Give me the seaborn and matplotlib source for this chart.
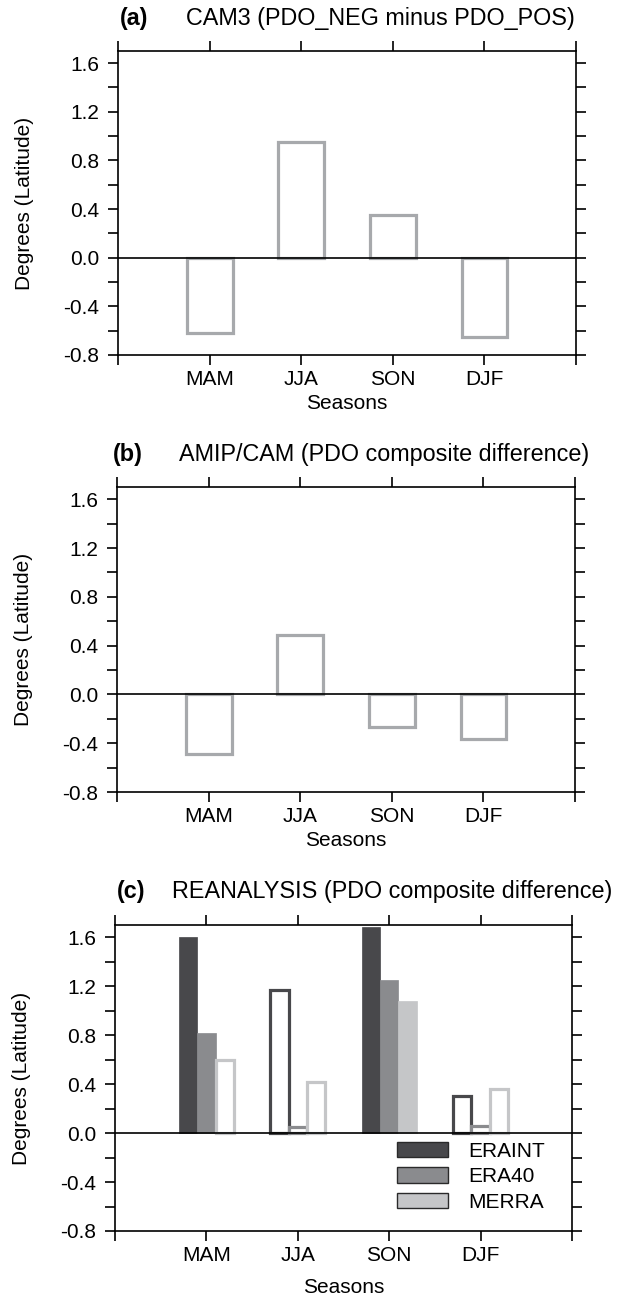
import pandas as pd
import seaborn as sns
import matplotlib.pyplot as plt
from matplotlib.patches import Patch
from matplotlib.ticker import MultipleLocator

# Seasons and their positions on the x axis
seasons = ['MAM', 'JJA', 'SON', 'DJF']
season_pos = [1, 2, 3, 4]

# Panel (a): CAM3 and panel (b): AMIP/CAM shift in degrees latitude
cam3_diff = [-0.62, 0.95, 0.35, -0.65]
amip_diff = [-0.49, 0.49, -0.265, -0.365]

# Panel (c): reanalyses
datasets = ['ERAINT', 'ERA40', 'MERRA']
eraint = [1.60, 1.165, 1.68, 0.30]
era40 = [0.82, 0.05, 1.25, 0.06]
merra = [0.60, 0.42, 1.08, 0.36]
# filled bars are the significant ones, the rest are drawn hollow
eraint_sig = [True, False, True, False]
era40_sig = [True, False, True, False]
merra_sig = [False, False, True, False]

dataset_colors = ['#48484b', '#8a8b8e', '#c5c6c8']
model_edge = '#a7a9ac'


def style_axes(ax, tag, title, tag_x, title_x, xlabel_y):
    ax.set_xlim(0, 5)
    ax.set_ylim(-0.8, 1.7)
    ax.axhline(0, color='black', linewidth=1.2, zorder=5)

    # y ticks every 0.2, labels every 0.4
    yt = [-0.8, -0.4, 0.0, 0.4, 0.8, 1.2, 1.6]
    ax.set_yticks(yt)
    ax.set_yticklabels(['%.1f' % v for v in yt])
    ax.yaxis.set_minor_locator(MultipleLocator(0.2))
    ax.set_xticks([0, 1, 2, 3, 4, 5])
    ax.set_xticklabels([''] + seasons + [''])

    ax.tick_params(axis='both', which='both', direction='out', length=7, width=1.2,
                   top=True, right=True, labelsize=15, colors='black')
    ax.tick_params(axis='x', pad=4)
    ax.tick_params(axis='y', pad=6.5)
    for side in ['left', 'right', 'top', 'bottom']:
        ax.spines[side].set_visible(True)
        ax.spines[side].set_linewidth(1.2)
        ax.spines[side].set_color('black')

    ax.set_xlabel('Seasons', fontsize=15)
    ax.set_ylabel('Degrees (Latitude)', fontsize=15)
    ax.xaxis.set_label_coords(0.5, xlabel_y)
    ax.yaxis.set_label_coords(-0.183, 0.5)

    ax.text(tag_x, 1.108, tag, transform=ax.transAxes, fontsize=16.8, fontweight='bold',
            va='center', ha='left')
    ax.text(title_x, 1.108, title, transform=ax.transAxes, fontsize=16.8,
            va='center', ha='left')


def plot_single(ax, values, tag, title, tag_x, title_x):
    df = pd.DataFrame({'pos': season_pos, 'value': values})
    sns.barplot(data=df, x='pos', y='value', native_scale=True, width=0.5,
                color='white', edgecolor=model_edge, linewidth=2.3,
                saturation=1, errorbar=None, ax=ax)
    style_axes(ax, tag, title, tag_x, title_x, -0.128)


def plot_reanalysis(ax):
    values = {'ERAINT': eraint, 'ERA40': era40, 'MERRA': merra}
    sig = {'ERAINT': eraint_sig, 'ERA40': era40_sig, 'MERRA': merra_sig}
    rows = []
    for name in datasets:
        for pos, val in zip(season_pos, values[name]):
            rows.append({'pos': pos, 'value': val, 'dataset': name})
    df = pd.DataFrame(rows)

    sns.barplot(data=df, x='pos', y='value', hue='dataset', hue_order=datasets,
                palette=dataset_colors, native_scale=True, width=0.6, dodge=True,
                saturation=1, errorbar=None, legend=False, ax=ax)

    # hollow bars for the non-significant values
    for name, color, container in zip(datasets, dataset_colors, ax.containers):
        for bar in container:
            k = int(round(bar.get_x() + bar.get_width() / 2)) - 1
            if sig[name][k]:
                bar.set_facecolor(color)
                bar.set_edgecolor(color)
                bar.set_linewidth(0.5)
            else:
                bar.set_facecolor('white')
                bar.set_edgecolor(color)
                bar.set_linewidth(2.3)

    style_axes(ax, '(c)', 'REANALYSIS (PDO composite difference)', 0.004, 0.125, -0.155)

    handles = [Patch(facecolor=c, edgecolor='#2a2a2a', linewidth=1.0) for c in dataset_colors]
    ax.legend(handles, datasets, loc='upper left', bbox_to_anchor=(0.616, 0.292),
              frameon=False, fontsize=15, handlelength=2.45, handleheight=0.75,
              handletextpad=1.0, labelspacing=0.32, borderpad=0, borderaxespad=0)


if __name__ == "__main__":
    sns.set_style("ticks")
    plt.rcParams['font.family'] = ['Liberation Sans', 'DejaVu Sans']
    plt.rcParams['axes.unicode_minus'] = False
    plt.rcParams['text.color'] = 'black'
    plt.rcParams['axes.labelcolor'] = 'black'

    fig = plt.figure(figsize=(6.3, 13.02), dpi=100)
    ax_a = fig.add_axes([118 / 630, 1 - 355 / 1302, 458 / 630, 304 / 1302])
    ax_b = fig.add_axes([117 / 630, 1 - 792 / 1302, 458 / 630, 305 / 1302])
    ax_c = fig.add_axes([115 / 630, 1 - 1231 / 1302, 457 / 630, 306 / 1302])

    plot_single(ax_a, cam3_diff, '(a)', 'CAM3 (PDO_NEG minus PDO_POS)', 0.004, 0.148)
    plot_single(ax_b, amip_diff, '(b)', 'AMIP/CAM (PDO composite difference)', -0.009, 0.136)
    plot_reanalysis(ax_c)

    fig.savefig('out.png', dpi=100, facecolor='white')
